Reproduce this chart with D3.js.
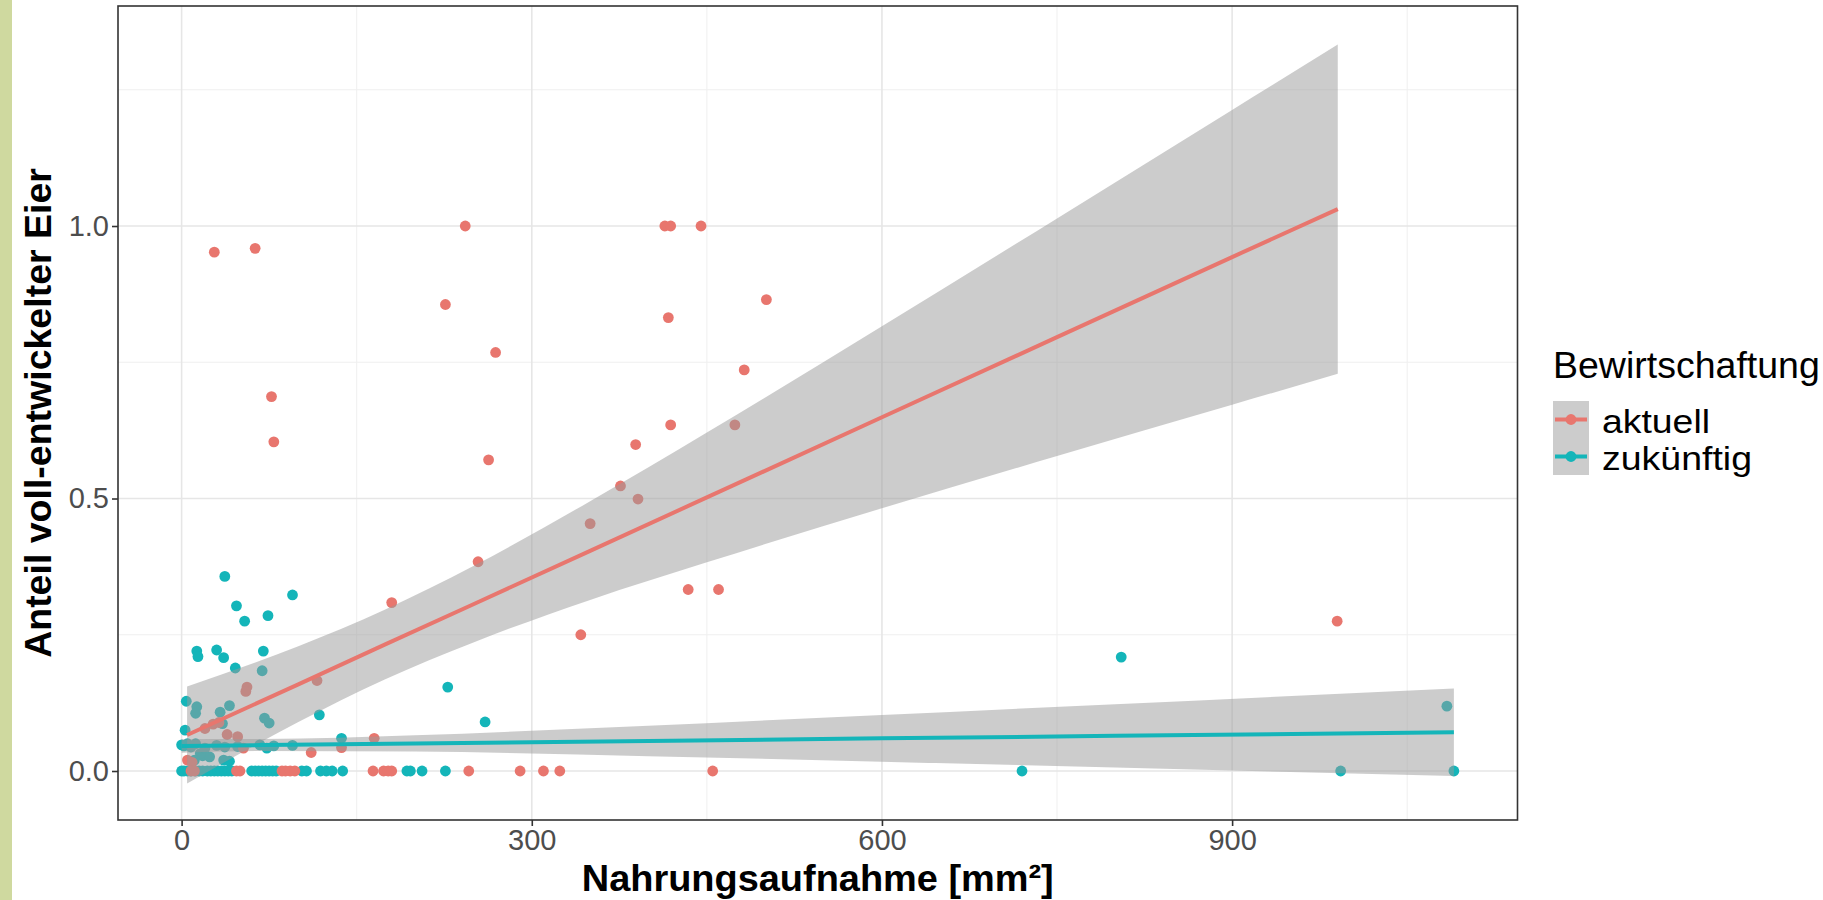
<!DOCTYPE html>
<html>
<head>
<meta charset="utf-8">
<script src="https://cdn.jsdelivr.net/npm/d3@7"></script>
<style>
  body { margin: 0; background: #fff; }
  text { font-family: "Liberation Sans", Arial, sans-serif; }
</style>
</head>
<body>
<div id="chart"></div>
<script>
// points: [Nahrungsaufnahme, Anteil]
const aktuellPoints = [
  [28, 0.952], [63, 0.959], [77, 0.687], [79, 0.604], [243, 1.0], [226, 0.856],
  [269, 0.768], [263, 0.571], [350, 0.454], [254, 0.384], [180, 0.309], [342, 0.25],
  [414, 1.0], [419, 1.0], [445, 1.0], [501, 0.865], [417, 0.832], [482, 0.736],
  [419, 0.635], [474, 0.635], [389, 0.599], [376, 0.523], [391, 0.499], [434, 0.333],
  [460, 0.333], [990, 0.275], [56, 0.154], [55, 0.146], [116, 0.166], [20, 0.078],
  [27, 0.086], [32, 0.089], [39, 0.067], [48, 0.063], [165, 0.06], [137, 0.043],
  [53, 0.042], [111, 0.034], [5, 0.02], [9, 0.016]
];
const aktuellZeroX = [8, 11, 47, 50, 86, 89, 93, 97, 164, 173, 177, 180, 246, 290, 310, 324, 455];

const zukuenftigPoints = [
  [37, 0.357], [95, 0.323], [47, 0.303], [74, 0.285], [54, 0.275], [13, 0.220],
  [14, 0.210], [30, 0.222], [36, 0.208], [70, 0.220], [46, 0.189], [69, 0.184],
  [4, 0.128], [13, 0.118], [12, 0.106], [41, 0.120], [33, 0.108], [35, 0.087],
  [118, 0.103], [71, 0.097], [75, 0.088], [3, 0.075], [137, 0.060], [228, 0.154],
  [260, 0.090], [805, 0.209], [1084, 0.119], [18, 0.028], [24, 0.026], [36, 0.020],
  [41, 0.018], [16, 0.032], [11, 0.020],
  [0, 0.048], [2, 0.046], [5, 0.050], [8, 0.044], [12, 0.050], [20, 0.042],
  [30, 0.047], [37, 0.044], [48, 0.045], [67, 0.048], [73, 0.042], [79, 0.046], [95, 0.047]
];
const zukuenftigZeroX = [0, 2, 5, 8, 12, 15, 18, 22, 25, 28, 31, 34, 37, 40, 43, 60, 63, 66,
  69, 72, 75, 78, 81, 103, 107, 119, 124, 129, 138, 193, 196, 206, 226, 720, 993, 1090];

// lm fits with confidence band
const aktuellFitX = [4.7, 100, 174, 250, 350, 450, 600, 750, 900, 990.5];
const aktuellFit = [0.066, 0.159, 0.232, 0.306, 0.404, 0.502, 0.649, 0.796, 0.943, 1.031];
const aktuellLower = [-0.023, 0.090, 0.168, 0.236, 0.314, 0.383, 0.482, 0.578, 0.672, 0.729];
const aktuellUpper = [0.155, 0.229, 0.296, 0.376, 0.495, 0.621, 0.816, 1.014, 1.213, 1.333];

const zukuenftigFitX = [0, 70, 200, 400, 600, 800, 1090];
const zukuenftigFit = [0.046, 0.0476, 0.0506, 0.0552, 0.0599, 0.0645, 0.0712];
const zukuenftigLower = [0.0337, 0.0366, 0.0356, 0.0272, 0.0171, 0.0064, -0.0092];
const zukuenftigUpper = [0.0583, 0.0586, 0.0656, 0.0832, 0.1027, 0.1226, 0.1516];

const groups = ["aktuell", "zukünftig"];
const xMajor = [0, 300, 600, 900];
const xMinor = [150, 450, 750, 1050];
const yMajor = [0, 0.5, 1.0];
const yMinor = [0.25, 0.75, 1.25];

const colors = { "aktuell": "#e8766e", "zukünftig": "#14b5b9" };

const width = 1823, height = 900;
const panel = { left: 118, right: 1517.5, top: 6, bottom: 820 };

const svg = d3.select("#chart")
  .append("svg")
  .attr("width", width)
  .attr("height", height);

svg.append("rect").attr("width", width).attr("height", height).attr("fill", "#fff");
svg.append("rect").attr("x", 0).attr("y", 0).attr("width", 12).attr("height", height).attr("fill", "#cfd99f");

const x = d3.scaleLinear().domain([-54.5, 1144.5]).range([panel.left, panel.right]);
const y = d3.scaleLinear().domain([-0.0899, 1.4037]).range([panel.bottom, panel.top]);

// grid
const grid = svg.append("g");
grid.selectAll(".xminor").data(xMinor).join("line")
  .attr("x1", d => x(d)).attr("x2", d => x(d))
  .attr("y1", panel.top).attr("y2", panel.bottom)
  .attr("stroke", "#efefef").attr("stroke-width", 1);
grid.selectAll(".yminor").data(yMinor).join("line")
  .attr("y1", d => y(d)).attr("y2", d => y(d))
  .attr("x1", panel.left).attr("x2", panel.right)
  .attr("stroke", "#efefef").attr("stroke-width", 1);
grid.selectAll(".xmajor").data(xMajor).join("line")
  .attr("x1", d => x(d)).attr("x2", d => x(d))
  .attr("y1", panel.top).attr("y2", panel.bottom)
  .attr("stroke", "#e6e6e6").attr("stroke-width", 1.6);
grid.selectAll(".ymajor").data(yMajor).join("line")
  .attr("y1", d => y(d)).attr("y2", d => y(d))
  .attr("x1", panel.left).attr("x2", panel.right)
  .attr("stroke", "#e6e6e6").attr("stroke-width", 1.6);

// points
const allPoints = [
  ...zukuenftigPoints.map(p => ({ x: p[0], y: p[1], g: "zukünftig" })),
  ...zukuenftigZeroX.map(v => ({ x: v, y: 0, g: "zukünftig" })),
  ...aktuellPoints.map(p => ({ x: p[0], y: p[1], g: "aktuell" })),
  ...aktuellZeroX.map(v => ({ x: v, y: 0, g: "aktuell" }))
];
svg.append("g")
  .selectAll("circle")
  .data(allPoints)
  .join("circle")
  .attr("cx", d => x(d.x))
  .attr("cy", d => y(d.y))
  .attr("r", 5.4)
  .attr("fill", d => colors[d.g]);

// smooths: ribbon then line, per group
const smooths = [
  { g: "aktuell", xs: aktuellFitX, fit: aktuellFit, lo: aktuellLower, hi: aktuellUpper },
  { g: "zukünftig", xs: zukuenftigFitX, fit: zukuenftigFit, lo: zukuenftigLower, hi: zukuenftigUpper }
];
const area = d3.area()
  .x(d => x(d.x)).y0(d => y(d.lo)).y1(d => y(d.hi))
  .curve(d3.curveMonotoneX);
const line = d3.line().x(d => x(d.x)).y(d => y(d.f));

smooths.forEach(s => {
  const rows = s.xs.map((v, i) => ({ x: v, f: s.fit[i], lo: s.lo[i], hi: s.hi[i] }));
  svg.append("path").datum(rows)
    .attr("d", area)
    .attr("fill", "#999999")
    .attr("fill-opacity", 0.5);
  svg.append("path").datum(rows)
    .attr("d", line)
    .attr("fill", "none")
    .attr("stroke", colors[s.g])
    .attr("stroke-width", 4);
});

// panel border
svg.append("rect")
  .attr("x", panel.left).attr("y", panel.top)
  .attr("width", panel.right - panel.left).attr("height", panel.bottom - panel.top)
  .attr("fill", "none").attr("stroke", "#333").attr("stroke-width", 1.6);

// axes
const xAxis = svg.append("g")
  .attr("transform", `translate(0,${panel.bottom})`)
  .call(d3.axisBottom(x).tickValues(xMajor).tickSize(6).tickPadding(6).tickFormat(d3.format("d")));
const yAxis = svg.append("g")
  .attr("transform", `translate(${panel.left},0)`)
  .call(d3.axisLeft(y).tickValues(yMajor).tickSize(6).tickPadding(3).tickFormat(d3.format(".1f")));

[xAxis, yAxis].forEach(a => {
  a.select(".domain").remove();
  a.selectAll(".tick line").attr("stroke", "#333").attr("stroke-width", 1.6);
  a.selectAll(".tick text")
    .attr("fill", "#4d4d4d")
    .style("font-size", "29px")
    .style("font-family", "'Liberation Sans', Arial, sans-serif");
});
xAxis.selectAll(".tick text").attr("dy", null).attr("y", 30);

// axis titles
svg.append("text")
  .attr("x", (panel.left + panel.right) / 2)
  .attr("y", 891)
  .attr("text-anchor", "middle")
  .attr("font-weight", "bold")
  .attr("font-size", 37)
  .attr("textLength", 472)
  .attr("lengthAdjust", "spacingAndGlyphs")
  .text("Nahrungsaufnahme [mm²]");

svg.append("text")
  .attr("transform", `translate(51,${(panel.top + panel.bottom) / 2}) rotate(-90)`)
  .attr("text-anchor", "middle")
  .attr("font-weight", "bold")
  .attr("font-size", 37.5)
  .text("Anteil voll-entwickelter Eier");

// legend
const legend = svg.append("g").attr("transform", "translate(1553,0)");
legend.append("text")
  .attr("x", 0).attr("y", 378)
  .attr("font-size", 37.5)
  .text("Bewirtschaftung");

const labelWidths = { "aktuell": 108, "zukünftig": 150 };
const keys = legend.selectAll(".key").data(groups).join("g")
  .attr("transform", (d, i) => `translate(0,${401 + i * 37})`);
keys.append("rect")
  .attr("width", 36).attr("height", 37)
  .attr("fill", "#999999").attr("fill-opacity", 0.5);
keys.append("line")
  .attr("x1", 2).attr("x2", 34).attr("y1", 18.5).attr("y2", 18.5)
  .attr("stroke", d => colors[d]).attr("stroke-width", 4);
keys.append("circle")
  .attr("cx", 18).attr("cy", 18.5).attr("r", 5.4)
  .attr("fill", d => colors[d]);
keys.append("text")
  .attr("x", 49).attr("y", 32)
  .attr("font-size", 33.5)
  .attr("textLength", d => labelWidths[d])
  .attr("lengthAdjust", "spacingAndGlyphs")
  .text(d => d);
</script>
</body>
</html>
